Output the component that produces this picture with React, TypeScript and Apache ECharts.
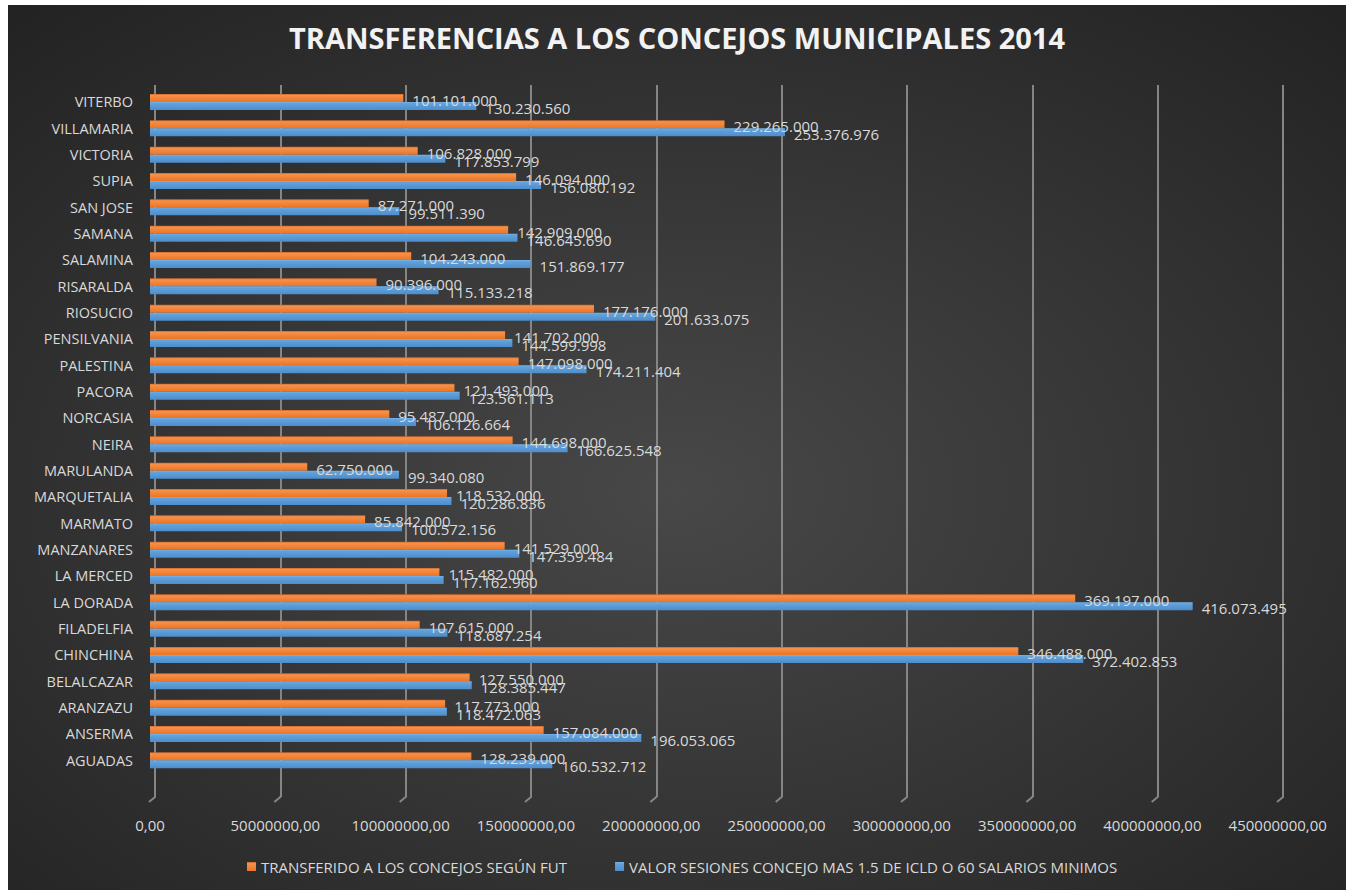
import React, { useEffect, useRef } from "react";
import * as echarts from "echarts";

const categories = [
  "AGUADAS", "ANSERMA", "ARANZAZU", "BELALCAZAR", "CHINCHINA", "FILADELFIA",
  "LA DORADA", "LA MERCED", "MANZANARES", "MARMATO", "MARQUETALIA", "MARULANDA",
  "NEIRA", "NORCASIA", "PACORA", "PALESTINA", "PENSILVANIA", "RIOSUCIO",
  "RISARALDA", "SALAMINA", "SAMANA", "SAN JOSE", "SUPIA", "VICTORIA",
  "VILLAMARIA", "VITERBO",
];

const transferido = [
  128239000, 157084000, 117773000, 127550000, 346488000, 107615000,
  369197000, 115482000, 141529000, 85842000, 118532000, 62750000,
  144698000, 95487000, 121493000, 147098000, 141702000, 177176000,
  90396000, 104243000, 142909000, 87271000, 146094000, 106828000,
  229265000, 101101000,
];

const valorSesiones = [
  160532712, 196053065, 118472063, 128385447, 372402853, 118687254,
  416073495, 117162960, 147359484, 100572156, 120286836, 99340080,
  166625548, 106126664, 123561113, 174211404, 144599998, 201633075,
  115133218, 151869177, 146645690, 99511390, 156080192, 117853799,
  253376976, 130230560,
];

const seriesNames = [
  "TRANSFERIDO A LOS CONCEJOS SEGÚN FUT",
  "VALOR SESIONES CONCEJO MAS 1.5 DE ICLD O 60 SALARIOS MINIMOS",
];

const axisMax = 450000000;
const axisInterval = 50000000;
const xTickValues = [
  0, 50000000, 100000000, 150000000, 200000000,
  250000000, 300000000, 350000000, 400000000, 450000000,
];

const FONT = "Open Sans";
const TEXT = "#d9d9d9";
const GRID_COLOR = "#858585";

const dots = (v: number) =>
  String(Math.round(v)).replace(/\B(?=(\d{3})+(?!\d))/g, ".");

export default function App() {
  const ref = useRef<HTMLDivElement>(null);

  useEffect(() => {
    if (!ref.current) return;
    const chart = echarts.init(ref.current, null, { renderer: "svg" });
    const orange = new echarts.graphic.LinearGradient(0, 0, 0, 1, [
      { offset: 0, color: "#c8652a" },
      { offset: 0.18, color: "#f6914a" },
      { offset: 1, color: "#ec7424" },
    ]);
    const blue = new echarts.graphic.LinearGradient(0, 0, 0, 1, [
      { offset: 0, color: "#7ab4ea" },
      { offset: 0.2, color: "#61a1dc" },
      { offset: 1, color: "#4d8dcb" },
    ]);
    const labelBase = {
      show: true,
      position: "right",
      distance: 9,
      color: TEXT,
      fontFamily: FONT,
      fontSize: 15,
      offset: [0, 2],
      formatter: (p: any) => dots(p.value),
    };
    chart.setOption({
      animation: false,
      backgroundColor: new echarts.graphic.RadialGradient(0.5, 0.55, 0.75, [
        { offset: 0, color: "#484848" },
        { offset: 1, color: "#222222" },
      ]),
      textStyle: { fontFamily: FONT },
      title: {
        text: "TRANSFERENCIAS A LOS CONCEJOS MUNICIPALES 2014",
        left: "center",
        top: 13,
        padding: [5, 5, 5, 39],
        textStyle: {
          color: "#f2f2f2",
          fontFamily: FONT,
          fontWeight: "bold",
          fontSize: 29,
        },
      },
      legend: {
        data: seriesNames,
        left: 234,
        top: 849,
        icon: "rect",
        itemWidth: 9,
        itemHeight: 9,
        itemGap: 48,
        textStyle: { color: TEXT, fontFamily: FONT, fontSize: 15 },
      },
      grid: [
        { left: 142, right: 68.3, top: 83.8, bottom: 116.5 },
        { left: 147, right: 63, top: 80, bottom: 93 },
      ],
      xAxis: [
        {
          gridIndex: 0,
          type: "value",
          min: 0,
          max: axisMax,
          interval: axisInterval,
          axisLine: { show: false },
          axisTick: { show: false },
          splitLine: { show: false },
          axisLabel: {
            color: TEXT,
            fontFamily: FONT,
            fontSize: 15,
            margin: 44,
            formatter: (v: number) => `${v},00`,
          },
        },
        {
          gridIndex: 1,
          type: "value",
          min: 0,
          max: axisMax,
          interval: axisInterval,
          axisLine: { show: false },
          axisTick: { show: false },
          axisLabel: { show: false },
          splitLine: { show: true, lineStyle: { color: GRID_COLOR, width: 2 } },
        },
      ],
      yAxis: [
        {
          gridIndex: 0,
          type: "category",
          data: categories,
          axisLine: { show: false },
          axisTick: { show: false },
          axisLabel: {
            color: TEXT,
            fontFamily: FONT,
            fontSize: 14.5,
            margin: 17,
            padding: [5, 0, 0, 0],
          },
        },
        {
          gridIndex: 1,
          type: "value",
          min: 0,
          max: 1,
          show: false,
          splitLine: { show: false },
        },
      ],
      series: [
        {
          name: seriesNames[0],
          type: "bar",
          xAxisIndex: 0,
          yAxisIndex: 0,
          data: transferido,
          barWidth: 8,
          barGap: "0%",
          color: "#ed7d31",
          itemStyle: { color: orange },
          label: labelBase,
          z: 3,
        },
        {
          name: seriesNames[1],
          type: "bar",
          xAxisIndex: 0,
          yAxisIndex: 0,
          data: valorSesiones,
          barWidth: 8,
          barGap: "0%",
          color: "#5b9bd5",
          itemStyle: { color: blue },
          label: labelBase,
          z: 3,
        },
        {
          name: "floor",
          type: "custom",
          xAxisIndex: 1,
          yAxisIndex: 1,
          silent: true,
          data: xTickValues.map((v) => [v, 0]),
          renderItem: (params: any, api: any) => {
            const p = api.coord([api.value(0), 0]);
            return {
              type: "polyline",
              shape: {
                points: [
                  [p[0], p[1] - 1],
                  [p[0], p[1]],
                  [p[0] - 6, p[1] + 5],
                ],
              },
              style: { stroke: GRID_COLOR, lineWidth: 2, fill: null },
            };
          },
          z: 1,
        },
      ],
    });
    return () => chart.dispose();
  }, []);

  return (
    <div
      ref={ref}
      style={{ position: "absolute", left: 8, top: 5, width: 1338, height: 885 }}
    />
  );
}
